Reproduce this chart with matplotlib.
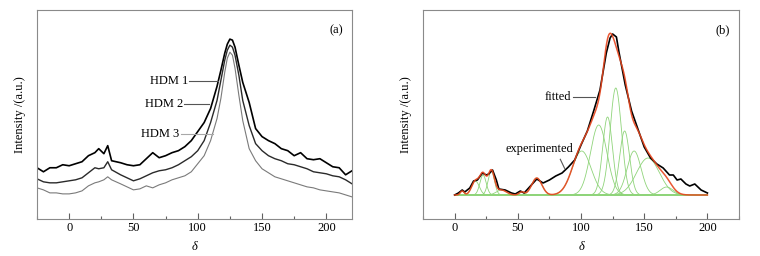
# intensity spectra of the three HDM samples (a) and peak fitting of one spectrum (b)

import numpy as np
import matplotlib
matplotlib.use("Agg")
import matplotlib.pyplot as plt
from matplotlib.ticker import MultipleLocator

plt.rcParams["font.family"] = ["Liberation Serif", "DejaVu Serif"]
plt.rcParams["font.size"] = 9

# panel (a): three spectra
delta_a = [-25, -20, -15, -10, -5, 0, 5, 10, 15, 20, 23, 27, 30, 33,
           40, 45, 50, 55, 60, 65, 70, 75, 80, 85, 90, 95, 100, 105, 110, 115,
           118, 121, 123, 125, 127, 129, 132, 135,
           140, 145, 150, 155, 160, 165, 170, 175, 180, 185, 190, 195, 200, 205, 210, 215, 220]
hdm1 = [51, 47, 51, 51, 54, 53, 55, 57, 63, 66, 70, 65, 73, 58,
        56, 54, 53, 54, 60, 66, 61, 63, 66, 68, 72, 78, 87, 96, 110, 132,
        148, 165, 174, 179, 178, 171, 153, 136,
        116, 90, 82, 78, 75, 70, 68, 63, 66, 60, 59, 60, 56, 52, 51, 44, 48]
hdm2 = [40, 37, 36, 36, 37, 38, 39, 41, 46, 51, 50, 51, 57, 49,
        44, 41, 38, 40, 43, 46, 48, 49, 51, 54, 58, 62, 68, 78, 96, 118,
        138, 158, 168, 173, 171, 163, 143, 118,
        93, 75, 68, 63, 60, 58, 55, 54, 52, 50, 47, 46, 45, 43, 42, 39, 35]
hdm3 = [31, 29, 26, 26, 25, 25, 26, 28, 33, 36, 37, 39, 42, 39,
        35, 32, 29, 30, 33, 31, 34, 36, 39, 41, 43, 47, 55, 63, 78, 100,
        120, 146, 160, 166, 163, 150, 123, 98,
        70, 58, 50, 46, 42, 40, 38, 36, 34, 32, 31, 29, 28, 27, 26, 24, 22]

# panel (b): experimental spectrum
delta_b = [0, 3, 6, 8, 12, 15, 18, 22, 25, 27, 30, 33, 35, 40, 45, 48, 52, 55, 60, 65,
           70, 75, 80, 85, 90, 95, 100, 105, 110, 115, 120, 123, 125, 128, 130, 135,
           140, 145, 150, 155, 160, 165, 170, 173, 176, 179, 183, 186, 190, 195, 200]
experimented = [0, 2, 5, 3, 7, 14, 15, 22, 20, 21, 25, 15, 6, 5, 2, 1, 4, 2, 9, 16,
                12, 15, 19, 22, 28, 35, 50, 64, 84, 105, 142, 157, 161, 158, 143, 110,
                84, 66, 48, 37, 31, 27, 20, 20, 15, 16, 11, 9, 11, 5, 2]

# fitted gaussian components (centre, height, width)
peak_centers = [6, 16.5, 22.5, 29, 37, 53, 65, 100.5, 114, 121, 127.5, 134.5, 142, 153, 167.7]
peak_heights = [4, 14, 20, 24, 5, 3, 17, 44, 70, 78, 107, 64, 44, 37, 8]
peak_widths = [1.5, 3, 2.5, 2.5, 4, 2, 4, 7.5, 6.5, 3.9, 4.5, 3.9, 5.5, 9, 5]

fig = plt.figure(figsize=(7.6, 2.56), dpi=100)
ax1 = fig.add_axes([0.0487, 0.1445, 0.4145, 0.8165])
ax2 = fig.add_axes([0.5566, 0.1445, 0.4158, 0.8165])

ax1.plot(delta_a, hdm1, color="black", lw=1.2)
ax1.plot(delta_a, hdm2, color="#2a2a2a", lw=1.0)
ax1.plot(delta_a, hdm3, color="#7a7a7a", lw=0.8)
ax1.set_xlim(-25, 220)
ax1.set_ylim(0, 208)

for label, start, end, y, col in [("HDM 1", 93.5, 116, 137, "#555555"),
                                  ("HDM 2", 89.4, 108.9, 114, "#555555"),
                                  ("HDM 3", 87, 112, 85, "#a8a8a8")]:
    ax1.plot([start, end], [y, y], color=col, lw=0.8)
    ax1.text(start - 1, y, label, ha="right", va="center")
ax1.text(0.971, 0.905, "(a)", transform=ax1.transAxes, ha="right", va="center")

# panel (b)
x_fit = np.linspace(0, 200, 801)
fitted = np.zeros_like(x_fit)
for c, h, w in zip(peak_centers, peak_heights, peak_widths):
    comp = h * np.exp(-(x_fit - c) ** 2 / (2 * w ** 2))
    fitted += comp
    ax2.plot(x_fit, comp, color="#8fd47a", lw=0.6)
ax2.plot(delta_b, experimented, color="black", lw=1.2)
ax2.plot(x_fit, fitted, color="#e8461e", lw=1.1, alpha=0.9)
ax2.set_xlim(-25, 225)
ax2.set_ylim(-24, 185)

ax2.plot([93.6, 111.2], [98, 98], color="#555555", lw=0.8)
ax2.text(92.5, 98, "fitted", ha="right", va="center")
ax2.plot([83.6, 87], [35.7, 26.7], color="#555555", lw=0.8)
ax2.text(94, 46, "experimented", ha="right", va="center")
ax2.text(0.971, 0.905, "(b)", transform=ax2.transAxes, ha="right", va="center")

for ax in (ax1, ax2):
    ax.set_xlabel("δ", style="italic", labelpad=5)
    ax.set_ylabel("Intensity /(a.u.)", labelpad=8)
    ax.set_yticks([])
    ax.xaxis.set_major_locator(MultipleLocator(50))
    ax.xaxis.set_minor_locator(MultipleLocator(25))
    ax.tick_params(axis="x", which="major", direction="in", length=4, width=0.8, color="#606060", pad=2)
    ax.tick_params(axis="x", which="minor", direction="in", length=2, width=0.8, color="#606060")
    for s in ax.spines.values():
        s.set_color("#8a8a8a")
        s.set_linewidth(0.8)

fig.savefig("out.png", dpi=100)
